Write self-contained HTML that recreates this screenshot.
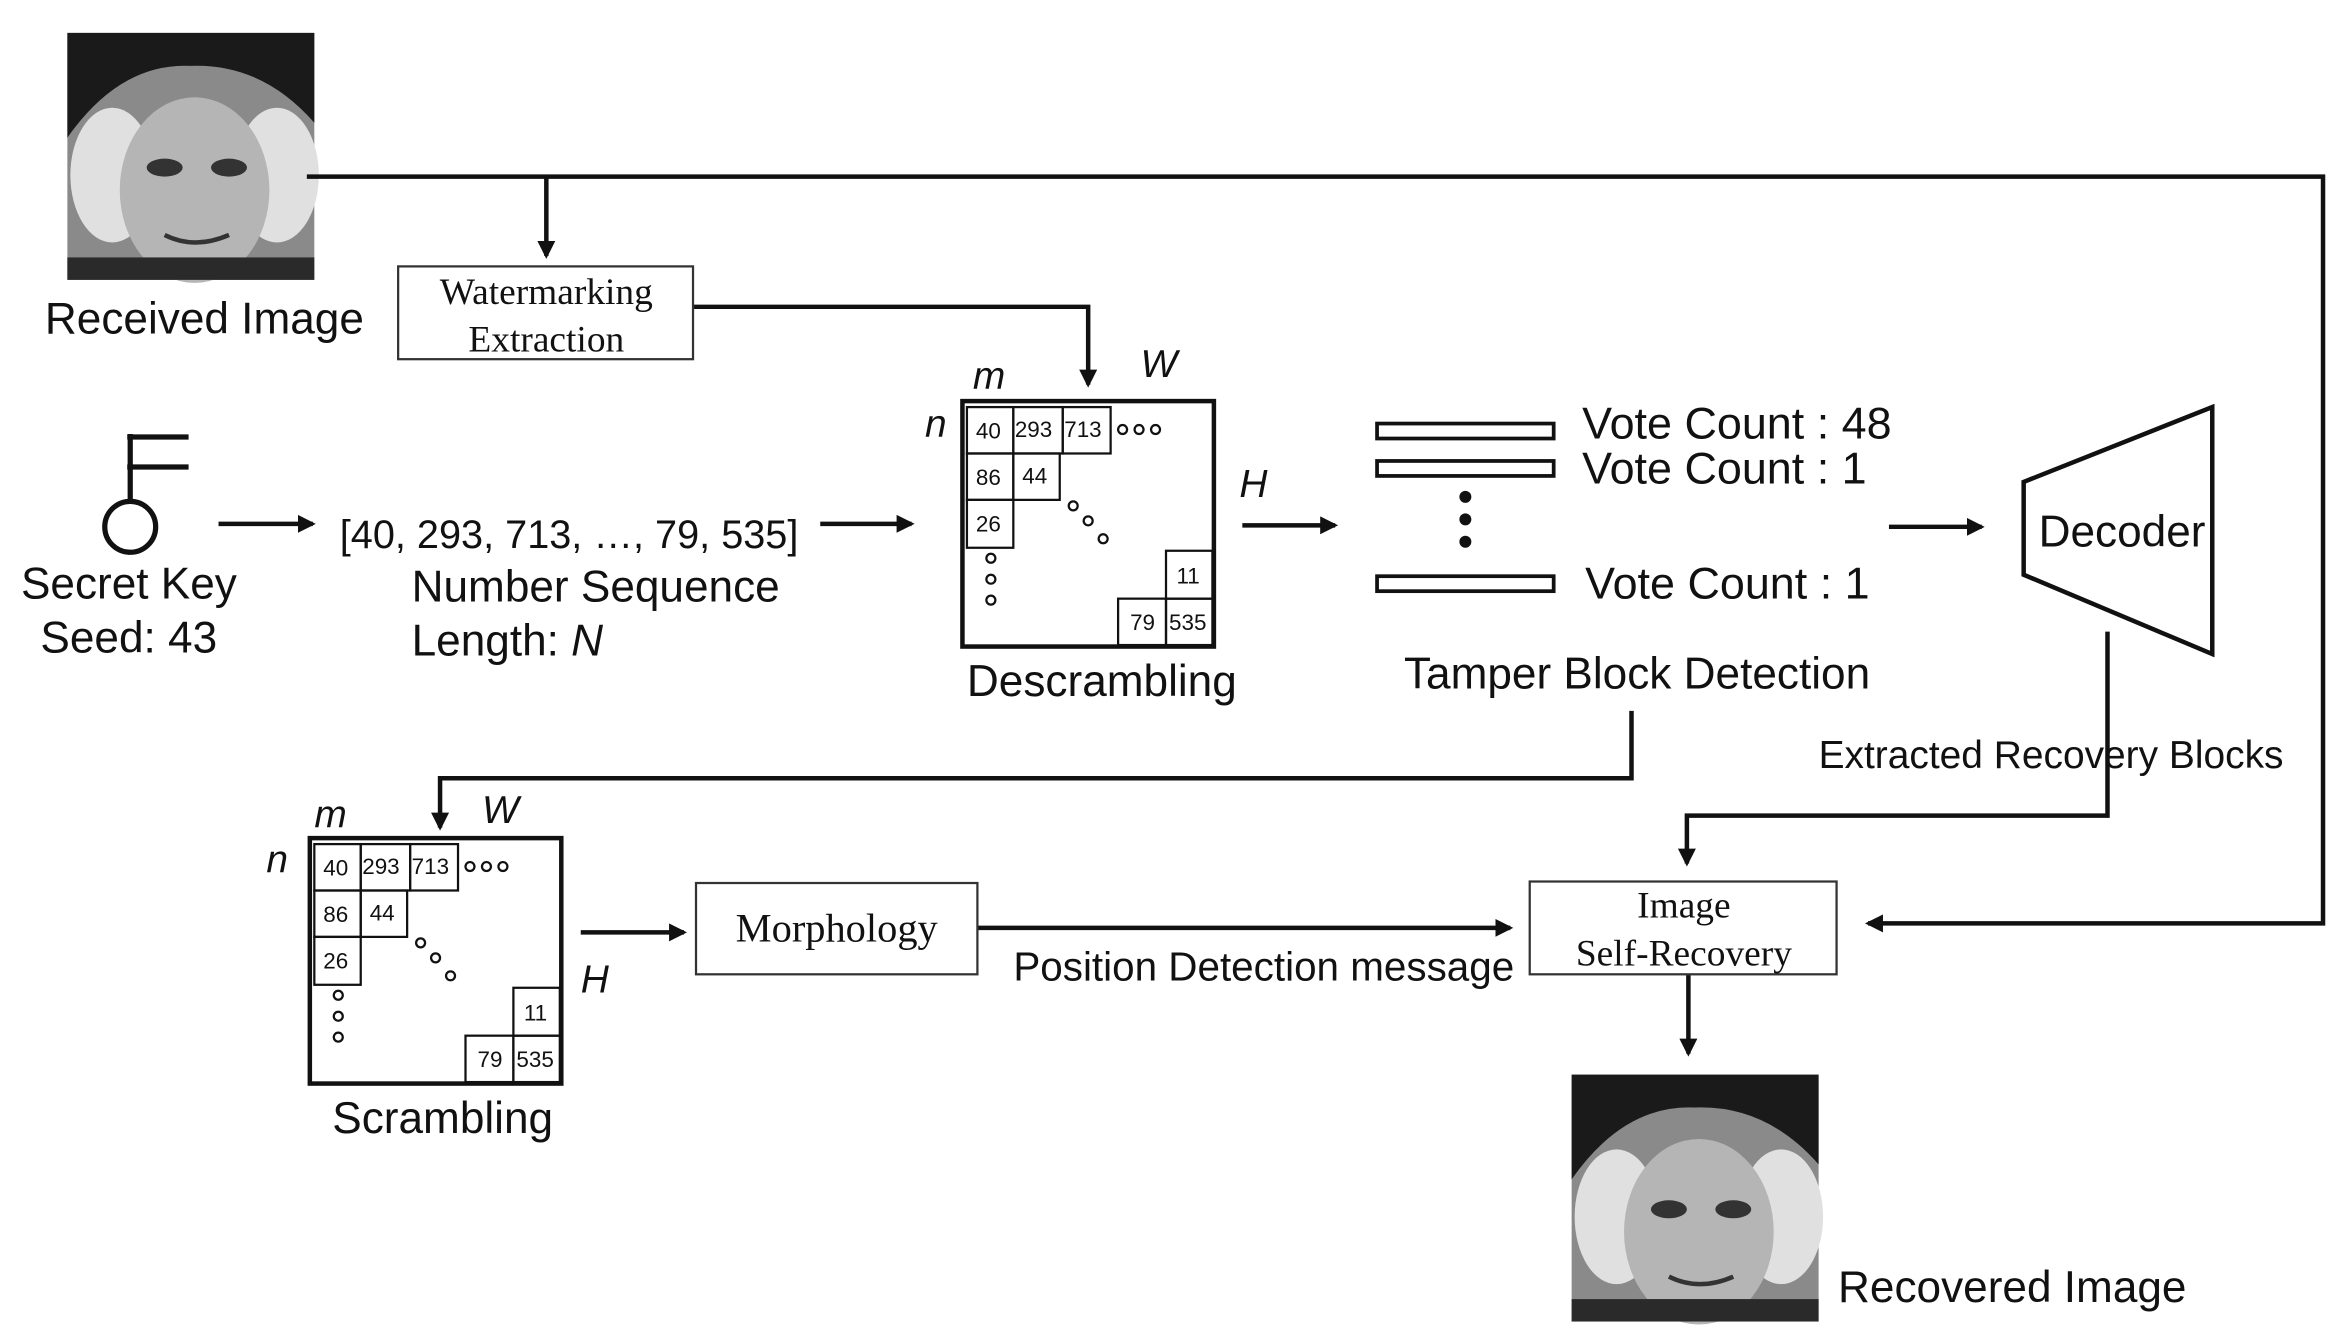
<!DOCTYPE html>
<html><head><meta charset="utf-8">
<style>
html,body{margin:0;padding:0;background:#fff;}
svg{display:block;}
text{font-family:"Liberation Sans",sans-serif;fill:#111;}
.serif{font-family:"Liberation Serif",serif;}
</style></head>
<body>
<svg width="2335" height="1335" viewBox="0 0 1560 892" preserveAspectRatio="none" xmlns="http://www.w3.org/2000/svg">
<defs>
<marker id="a" markerWidth="12" markerHeight="12" refX="10" refY="6" orient="auto" markerUnits="userSpaceOnUse">
<path d="M0,0 L12,6 L0,12 z" fill="#111"/></marker>
<g id="face">
<rect x="0" y="0" width="165" height="165" fill="#8a8a8a"/>
<path d="M0,0 H165 V60 Q130,20 82,22 Q35,20 0,70 z" fill="#1a1a1a"/>
<ellipse cx="30" cy="95" rx="28" ry="45" fill="#e0e0e0"/>
<ellipse cx="140" cy="95" rx="28" ry="45" fill="#e0e0e0"/>
<ellipse cx="85" cy="105" rx="50" ry="62" fill="#b5b5b5"/>
<ellipse cx="65" cy="90" rx="12" ry="6" fill="#333"/>
<ellipse cx="108" cy="90" rx="12" ry="6" fill="#333"/>
<path d="M65,135 Q85,145 108,135" stroke="#333" stroke-width="3" fill="none"/>
<rect x="0" y="150" width="165" height="15" fill="#2a2a2a"/>
</g>
<g id="mat" fill="none" stroke="#111">
<rect x="643" y="268" width="168" height="164" stroke-width="3"/>
<g stroke-width="1.5">
<rect x="646" y="272" width="31" height="31"/><rect x="677" y="272" width="33" height="31"/><rect x="710" y="272" width="32" height="31"/>
<rect x="646" y="303" width="31" height="31"/><rect x="677" y="303" width="31" height="31"/>
<rect x="646" y="334" width="31" height="32"/>
<rect x="779" y="368" width="31" height="32"/>
<rect x="747" y="400" width="32" height="31"/><rect x="779" y="400" width="31" height="31"/>
<circle cx="717" cy="338" r="3"/><circle cx="727" cy="348" r="3"/><circle cx="737" cy="360" r="3"/>
<circle cx="662" cy="373" r="3"/><circle cx="662" cy="387" r="3"/><circle cx="662" cy="401" r="3"/>
<circle cx="750" cy="287" r="3"/><circle cx="761" cy="287" r="3"/><circle cx="772" cy="287" r="3"/>
</g>
<g font-size="15" fill="#111" stroke="none" font-family="Liberation Sans,sans-serif">
<text x="652" y="293">40</text><text x="678" y="292">293</text><text x="711" y="292">713</text>
<text x="652" y="324">86</text><text x="683" y="323">44</text><text x="652" y="355">26</text>
<text x="786" y="390">11</text><text x="755" y="421">79</text><text x="781" y="421">535</text>
</g>
</g>
</defs>

<use href="#face" x="45" y="22"/>
<text x="30" y="223" font-size="29.5">Received Image</text>

<g stroke="#111" stroke-width="3" fill="none">
<polyline points="205,118 1552,118 1552,617 1248,617" marker-end="url(#a)"/>
<line x1="365" y1="118" x2="365" y2="171" marker-end="url(#a)"/>
<polyline points="463,205 727,205 727,257" marker-end="url(#a)"/>
<line x1="146" y1="350" x2="209" y2="350" marker-end="url(#a)"/>
<line x1="548" y1="350" x2="609" y2="350" marker-end="url(#a)"/>
<line x1="830" y1="351" x2="892" y2="351" marker-end="url(#a)"/>
<line x1="1262" y1="352" x2="1324" y2="352" marker-end="url(#a)"/>
<polyline points="1408,422 1408,545 1127,545 1127,577" marker-end="url(#a)"/>
<polyline points="1090,475 1090,520 294,520 294,553" marker-end="url(#a)"/>
<line x1="388" y1="623" x2="457" y2="623" marker-end="url(#a)"/>
<line x1="653" y1="620" x2="1009" y2="620" marker-end="url(#a)"/>
<line x1="1128" y1="651" x2="1128" y2="704" marker-end="url(#a)"/>
</g>
<g stroke="#111" stroke-width="3.5" fill="none">
<circle cx="87" cy="352" r="17"/>
<line x1="87" y1="290" x2="87" y2="335"/>
<line x1="85" y1="292" x2="126" y2="292"/>
<line x1="85" y1="312" x2="126" y2="312"/>
</g>

<rect x="266" y="178" width="197" height="62" fill="#fff" stroke="#333" stroke-width="1.5"/>
<text class="serif" x="365" y="203" font-size="25" text-anchor="middle">Watermarking</text>
<text class="serif" x="365" y="235" font-size="25" text-anchor="middle">Extraction</text>

<text x="14" y="400" font-size="29.5">Secret Key</text>
<text x="27" y="436" font-size="29.5">Seed: 43</text>
<text x="227" y="366" font-size="26.5">[40, 293, 713, …, 79, 535]</text>
<text x="275" y="402" font-size="29.5">Number Sequence</text>
<text x="275" y="438" font-size="29.5">Length: <tspan font-style="italic">N</tspan></text>

<use href="#mat"/>
<text x="650" y="260" font-size="26" font-style="italic">m</text>
<text x="762" y="252" font-size="26" font-style="italic">W</text>
<text x="618" y="292" font-size="26" font-style="italic">n</text>
<text x="828" y="332" font-size="26" font-style="italic">H</text>
<text x="646" y="465" font-size="29.5">Descrambling</text>

<g fill="#fff" stroke="#111" stroke-width="2.5">
<rect x="920" y="283" width="118" height="10"/>
<rect x="920" y="308" width="118" height="10"/>
<rect x="920" y="385" width="118" height="10"/>
</g>
<circle cx="979" cy="332" r="4" fill="#111"/><circle cx="979" cy="347" r="4" fill="#111"/><circle cx="979" cy="362" r="4" fill="#111"/>
<text x="1057" y="293" font-size="30">Vote Count : 48</text>
<text x="1057" y="323" font-size="30">Vote Count : 1</text>
<text x="1059" y="400" font-size="30">Vote Count : 1</text>
<text x="938" y="460" font-size="29.5">Tamper Block Detection</text>

<polygon points="1352,322 1478,272 1478,437 1352,384" fill="#fff" stroke="#111" stroke-width="3"/>
<text x="1362" y="365" font-size="29.5">Decoder</text>
<text x="1215" y="513" font-size="26">Extracted Recovery Blocks</text>

<use href="#mat" transform="translate(-436,292)"/>
<text x="210" y="553" font-size="26" font-style="italic">m</text>
<text x="322" y="550" font-size="26" font-style="italic">W</text>
<text x="178" y="583" font-size="26" font-style="italic">n</text>
<text x="388" y="663" font-size="26" font-style="italic">H</text>
<text x="222" y="757" font-size="29.5">Scrambling</text>

<rect x="465" y="590" width="188" height="61" fill="#fff" stroke="#333" stroke-width="1.5"/>
<text class="serif" x="559" y="629" font-size="27" text-anchor="middle">Morphology</text>
<text x="677" y="655" font-size="27">Position Detection message</text>

<rect x="1022" y="589" width="205" height="62" fill="#fff" stroke="#333" stroke-width="1.5"/>
<text class="serif" x="1125" y="613" font-size="25" text-anchor="middle">Image</text>
<text class="serif" x="1125" y="645" font-size="25" text-anchor="middle">Self-Recovery</text>

<use href="#face" x="1050" y="718"/>
<text x="1228" y="870" font-size="29.5">Recovered Image</text>
</svg>
</body></html>
